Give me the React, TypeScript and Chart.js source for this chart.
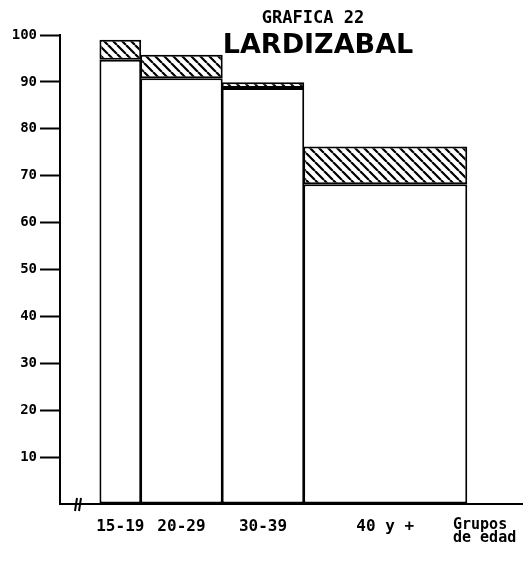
import { useEffect, useRef } from 'react';
import { Chart, registerables } from 'chart.js';
Chart.register(...registerables);

const categories = ['15-19', '20-29', '30-39', '40 y +'];
const groupEdges = [15, 20, 30, 40, 60];
const baseValues = [94.7, 90.8, 88.7, 68.2];
const hatchedValues = [4.3, 5.0, 1.2, 8.0];
const yTickValues = [10, 20, 30, 40, 50, 60, 70, 80, 90, 100];
const axisTitleLines = ['Grupos', 'de edad'];
const titleSmall = 'GRAFICA 22';
const titleBig = 'LARDIZABAL';

const FONT = '"DejaVu Sans Mono", monospace';

function makeHatch(): CanvasPattern | string {
  const s = 9;
  const c = document.createElement('canvas');
  c.width = s;
  c.height = s;
  const g = c.getContext('2d');
  if (!g) return '#fff';
  g.fillStyle = '#fff';
  g.fillRect(0, 0, s, s);
  g.strokeStyle = '#000';
  g.lineWidth = 2.2;
  g.beginPath();
  for (let k = -1; k <= 1; k++) {
    g.moveTo(k * s, 0);
    g.lineTo(k * s + s, s);
  }
  g.stroke();
  return g.createPattern(c, 'repeat') || '#fff';
}

const centers = categories.map((_, i) => (groupEdges[i] + groupEdges[i + 1]) / 2);

const widthPlugin = {
  id: 'variableWidth',
  afterDatasetsUpdate(chart: any) {
    const xs = chart.scales.x;
    chart.data.datasets.forEach((_: any, di: number) => {
      const meta = chart.getDatasetMeta(di);
      meta.data.forEach((el: any, i: number) => {
        const l = xs.getPixelForValue(groupEdges[i]);
        const r = xs.getPixelForValue(groupEdges[i + 1]);
        el.x = (l + r) / 2;
        el.width = r - l + 1;
      });
    });
  },
};

const decoPlugin = {
  id: 'deco',
  afterDraw(chart: any) {
    const ctx = chart.ctx;
    const xs = chart.scales.x;
    const ys = chart.scales.y;
    ctx.save();
    ctx.fillStyle = '#000';
    ctx.textAlign = 'center';
    ctx.textBaseline = 'middle';
    ctx.font = `bold 17px ${FONT}`;
    ctx.fillText(titleSmall, 313, 19);
    ctx.font = `bold 27px "DejaVu Sans", sans-serif`;
    (ctx as any).letterSpacing = '0px';
    ctx.fillText(titleBig, 318, 46);
    ctx.textAlign = 'left';
    ctx.textBaseline = 'top';
    ctx.font = `bold 15px ${FONT}`;
    const y0 = ys.getPixelForValue(0);
    axisTitleLines.forEach((t, i) => ctx.fillText(t, 453, y0 + 14 + i * 13));
    ctx.strokeStyle = '#000';
    ctx.lineWidth = 2;
    ctx.beginPath();
    const bx = xs.left + 16;
    ctx.moveTo(bx - 1, y0 + 7);
    ctx.lineTo(bx + 1, y0 - 6);
    ctx.moveTo(bx + 3, y0 + 7);
    ctx.lineTo(bx + 5, y0 - 6);
    ctx.stroke();
    ctx.restore();
  },
};

export default function App() {
  const ref = useRef<HTMLCanvasElement>(null);
  useEffect(() => {
    document.body.style.margin = '0';
    if (!ref.current) return;
    const hatch = makeHatch();
    const chart = new Chart(ref.current, {
      type: 'bar',
      data: {
        datasets: [
          {
            data: centers.map((c, i) => ({ x: c, y: baseValues[i] })),
            backgroundColor: '#fff',
            borderColor: '#000',
            borderWidth: 2,
            borderSkipped: false,
          },
          {
            data: centers.map((c, i) => ({ x: c, y: hatchedValues[i] })),
            backgroundColor: hatch as any,
            borderColor: '#000',
            borderWidth: 2,
            borderSkipped: false,
          },
        ],
      },
      options: {
        animation: false,
        responsive: true,
        maintainAspectRatio: false,
        layout: { padding: { top: 35, right: 0, left: 0, bottom: 0 } },
        plugins: { legend: { display: false }, tooltip: { enabled: false }, title: { display: false } },
        scales: {
          x: {
            type: 'linear',
            stacked: true,
            offset: false,
            min: 10.1,
            max: 66.9,
            afterFit: (s: any) => { s.height = 59; },
            afterBuildTicks: (s: any) => {
              s.ticks = centers.map((v) => ({ value: v }));
            },
            ticks: {
              autoSkip: false,
              maxRotation: 0,
              padding: 13,
              color: '#000',
              font: { family: FONT, size: 16, weight: 'bold' },
              callback: (_v: any, i: number) => categories[i],
            },
            grid: { display: false, drawTicks: false, offset: false },
            border: { display: true, color: '#000', width: 2 },
          },
          y: {
            stacked: true,
            min: 0,
            max: 100,
            afterFit: (s: any) => { s.width = 60; },
            afterBuildTicks: (s: any) => {
              s.ticks = [0, ...yTickValues].map((v) => ({ value: v }));
            },
            ticks: {
              padding: 3,
              color: '#000',
              font: { family: FONT, size: 14, weight: 'bold' },
              callback: (v: any) => (v === 0 ? '' : String(v)),
            },
            grid: {
              drawOnChartArea: false,
              drawTicks: true,
              tickLength: 20,
              tickWidth: 2,
              color: (c: any) => (c.tick && c.tick.value === 0 ? 'rgba(0,0,0,0)' : '#000'),
            },
            border: { display: true, color: '#000', width: 2 },
          },
        },
      },
      plugins: [widthPlugin, decoPlugin],
    } as any);
    return () => chart.destroy();
  }, []);
  return (
    <div style={{ position: 'absolute', left: 0, top: 0, width: 523, height: 563 }}>
      <canvas ref={ref} />
    </div>
  );
}
